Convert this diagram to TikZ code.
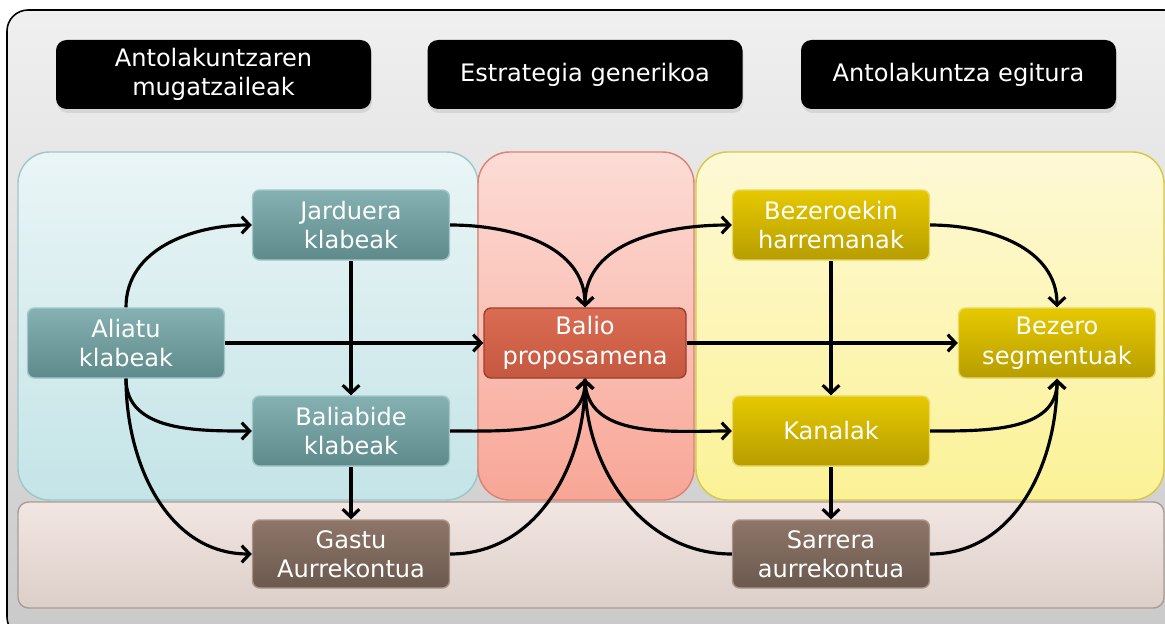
\documentclass[tikz,border=0pt]{standalone}
\usepackage{fontspec}
\setmainfont{DejaVu Sans}
\usepackage{tikz}
\usetikzlibrary{arrows.meta, shadows}

\definecolor{tealtop}{HTML}{86B1B3}
\definecolor{tealbot}{HTML}{5E8A8C}
\definecolor{tealline}{HTML}{A3C7C9}
\definecolor{redtop}{HTML}{D96C52}
\definecolor{redbot}{HTML}{C55840}
\definecolor{redline}{HTML}{9E3E2C}
\definecolor{yeltop}{HTML}{E6C900}
\definecolor{yelbot}{HTML}{B79D00}
\definecolor{yelline}{HTML}{E9DA66}
\definecolor{browntop}{HTML}{8E7668}
\definecolor{brownbot}{HTML}{6B594E}
\definecolor{brownline}{HTML}{A99689}

\tikzset{
  header/.style={fill=black, rounded corners=6pt, text=white, minimum width=6.3cm, minimum height=1.38cm, align=center, drop shadow={opacity=0.18, shadow xshift=0.02cm, shadow yshift=-0.08cm}},
  blokea/.style={rounded corners=4pt, text=white, minimum width=3.94cm, minimum height=1.4cm, align=center, line width=0.8pt},
  tealbox/.style={blokea, top color=tealtop, bottom color=tealbot, draw=tealline},
  redbox/.style={blokea, top color=redtop, bottom color=redbot, draw=redline, minimum width=4.04cm},
  yelbox/.style={blokea, top color=yeltop, bottom color=yelbot, draw=yelline},
  brownbox/.style={blokea, top color=browntop, bottom color=brownbot, draw=brownline, minimum height=1.36cm},
  eremua/.style={rounded corners=18pt, line width=0.8pt},
  gezia/.style={line width=1.8pt, -{Straight Barb[length=4.5pt,width=9.5pt]}},
  gezibi/.style={line width=1.8pt, {Straight Barb[length=4.5pt,width=9.5pt]}-{Straight Barb[length=4.5pt,width=9.5pt]}}
}

\begin{document}
\begin{tikzpicture}[font=\fontsize{13.7}{16.8}\selectfont]
    \useasboundingbox (0,0) rectangle (23.3,12.46);
    \draw[rounded corners=12pt, top color=gray!12, bottom color=gray!42, line width=0.9pt] (0.14,-0.3) rectangle (23.7,12.26);

    \draw[eremua, top color={rgb,255:red,242;green,230;blue,227}, bottom color={rgb,255:red,220;green,207;blue,201}, draw={rgb,255:red,170;green,155;blue,148}, rounded corners=6pt] (0.36,0.3) rectangle (23.28,2.42);
    \draw[eremua, top color={rgb,255:red,234;green,245;blue,246}, bottom color={rgb,255:red,196;green,228;blue,231}, draw={rgb,255:red,156;green,199;blue,203}] (0.36,2.46) rectangle (9.56,9.42);
    \draw[eremua, top color={rgb,255:red,252;green,220;blue,214}, bottom color={rgb,255:red,248;green,166;blue,150}, draw={rgb,255:red,224;green,128;blue,110}] (9.56,2.46) rectangle (13.88,9.42);
    \draw[eremua, top color={rgb,255:red,254;green,249;blue,214}, bottom color={rgb,255:red,251;green,242;blue,150}, draw={rgb,255:red,216;green,200;blue,64}] (13.92,2.46) rectangle (23.28,9.42);

    \node[header] (mugak) at (4.27,10.97) {Antolakuntzaren\\mugatzaileak};
    \node[header] (estrategia) at (11.7,10.97) {Estrategia generikoa};
    \node[header] (egitura) at (19.17,10.97) {Antolakuntza egitura};

    \node[tealbox] (jarduera) at (7.02,7.96) {Jarduera\\klabeak};
    \node[tealbox] (aliatu) at (2.52,5.6) {Aliatu\\klabeak};
    \node[tealbox] (baliabide) at (7.02,3.84) {Baliabide\\klabeak};
    \node[brownbox] (gastu) at (7.02,1.38) {Gastu\\Aurrekontua};
    \node[redbox] (balio) at (11.7,5.6) {Balio\\proposamena};
    \node[yelbox] (bezeroekin) at (16.62,7.96) {Bezeroekin\\harremanak};
    \node[yelbox] (kanalak) at (16.62,3.84) {Kanalak};
    \node[brownbox] (sarrera) at (16.62,1.38) {Sarrera\\aurrekontua};
    \node[yelbox] (segmentuak) at (21.14,5.6) {Bezero\\segmentuak};

    \draw[gezia] (aliatu.north) to[out=90,in=180] (jarduera.west);
    \draw[gezia] (aliatu.east) -- (balio.west);
    \draw[gezia] (aliatu.south) to[out=-90,in=180] (baliabide.west);
    \draw[gezia] (aliatu.south) to[out=-90,in=180] (gastu.west);
    \draw[gezia] (jarduera.south) -- (baliabide.north);
    \draw[gezia] (baliabide.south) -- (gastu.north);
    \draw[gezia] (jarduera.east) to[out=0,in=90] (balio.north);
    \draw[gezia] (baliabide.east) to[out=0,in=-90] (balio.south);
    \draw[gezia] (gastu.east) to[out=0,in=-90] (balio.south);
    \draw[gezia] (sarrera.west) to[out=180,in=-90] (balio.south);
    \draw[gezibi] (balio.north) to[out=90,in=180] (bezeroekin.west);
    \draw[gezia] (balio.east) -- (segmentuak.west);
    \draw[gezia] (balio.south) to[out=-90,in=180] (kanalak.west);
    \draw[gezia] (bezeroekin.south) -- (kanalak.north);
    \draw[gezia] (kanalak.south) -- (sarrera.north);
    \draw[gezia] (bezeroekin.east) to[out=0,in=90] (segmentuak.north);
    \draw[gezia] (kanalak.east) to[out=0,in=-90] (segmentuak.south);
    \draw[gezia] (sarrera.east) to[out=0,in=-90] (segmentuak.south);
\end{tikzpicture}
\end{document}
